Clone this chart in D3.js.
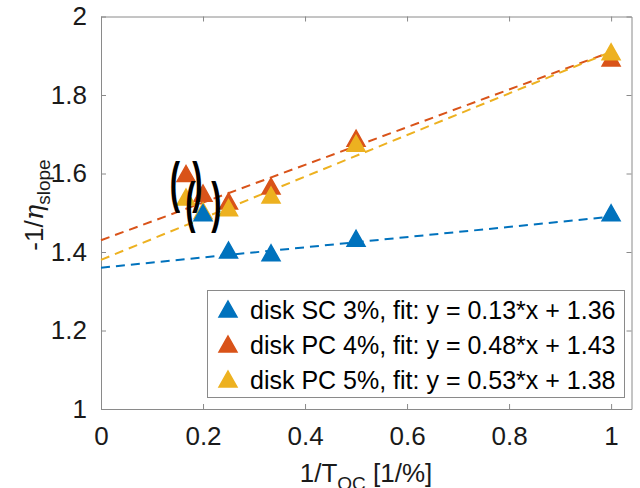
<!DOCTYPE html>
<html>
<head>
<meta charset="utf-8">
<script src="https://cdn.jsdelivr.net/npm/d3@7"></script>
<style>
  body { margin: 0; background: #fff; }
  svg { display: block; font-family: "Liberation Sans", Arial, Helvetica, sans-serif; }
</style>
</head>
<body>
<div id="chart"></div>
<script>
// 1/T_OC values (x) for each measurement
const xSC = [0.2, 0.25, 1 / 3, 0.5, 1];
const ySC = [1.50, 1.405, 1.398, 1.435, 1.50];

const xPC4 = [1 / 6, 0.2, 0.25, 1 / 3, 0.5, 1];
const yPC4 = [1.60, 1.55, 1.53, 1.568, 1.69, 1.894];

const xPC5 = [1 / 6, 0.2, 0.25, 1 / 3, 0.5, 1];
const yPC5 = [1.54, 1.505, 1.513, 1.545, 1.677, 1.91];

// linear fits  y = a*x + b
const fitSlopes = [0.13, 0.48, 0.53];
const fitOffsets = [1.36, 1.43, 1.38];

const seriesNames = [
  'disk SC 3%, fit: y = 0.13*x + 1.36',
  'disk PC 4%, fit: y = 0.48*x + 1.43',
  'disk PC 5%, fit: y = 0.53*x + 1.38'
];
const colors = ['#0072BD', '#D95319', '#EDB120'];

const xTicks = [0, 0.2, 0.4, 0.6, 0.8, 1];
const yTicks = [1, 1.2, 1.4, 1.6, 1.8, 2];

// brackets drawn around the uncertain points
const bracketChars = ['(', ')', '(', ')'];
const bracketX = [0.145, 0.189, 0.175, 0.226];
const bracketY = [1.566, 1.568, 1.517, 1.517];

const width = 640;
const height = 488;
const margin = { top: 16.5, right: 8.5, bottom: 79, left: 101 };

const svg = d3.select('#chart')
  .append('svg')
  .attr('width', width)
  .attr('height', height);

const xScale = d3.scaleLinear()
  .domain([0, 1.04])
  .range([margin.left, width - margin.right]);

const yScale = d3.scaleLinear()
  .domain([1, 2])
  .range([height - margin.bottom, margin.top]);

const axisColor = '#8a8a8a';
const tickLen = 5;

function styleAxis(g, showLabels) {
  g.select('.domain').attr('stroke', axisColor).attr('stroke-width', 1);
  g.selectAll('.tick line').attr('stroke', axisColor);
  g.selectAll('.tick text')
    .attr('fill', '#1a1a1a')
    .style('font-size', '26px')
    .style('display', showLabels ? null : 'none');
}

const fmt = d => d3.format('~g')(d);

// bottom / top
svg.append('g')
  .attr('transform', `translate(0,${yScale(1)})`)
  .call(d3.axisBottom(xScale).tickValues(xTicks).tickFormat(fmt)
    .tickSizeInner(-tickLen).tickSizeOuter(0).tickPadding(18))
  .call(g => styleAxis(g, true));

svg.append('g')
  .attr('transform', `translate(0,${yScale(2)})`)
  .call(d3.axisTop(xScale).tickValues(xTicks)
    .tickSizeInner(-tickLen).tickSizeOuter(0))
  .call(g => styleAxis(g, false));

// left / right
svg.append('g')
  .attr('transform', `translate(${xScale(0)},0)`)
  .call(d3.axisLeft(yScale).tickValues(yTicks).tickFormat(fmt)
    .tickSizeInner(-tickLen).tickSizeOuter(0).tickPadding(14))
  .call(g => styleAxis(g, true));

svg.append('g')
  .attr('transform', `translate(${xScale(1.04)},0)`)
  .call(d3.axisRight(yScale).tickValues(yTicks)
    .tickSizeInner(-tickLen).tickSizeOuter(0))
  .call(g => styleAxis(g, false));

// dashed fit lines from x = 0 to x = 1
const line = d3.line()
  .x(d => xScale(d[0]))
  .y(d => yScale(d[1]));

fitSlopes.forEach((a, i) => {
  const b = fitOffsets[i];
  svg.append('path')
    .datum([[0, b], [1, a + b]])
    .attr('d', line)
    .attr('fill', 'none')
    .attr('stroke', colors[i])
    .attr('stroke-width', 2)
    .attr('stroke-dasharray', '9,6');
});

// triangle marker centred on the data point
function triangle(w, h) {
  return `M0,${-h / 2}L${w / 2},${h / 2}L${-w / 2},${h / 2}Z`;
}

const series = [
  { xs: xSC, ys: ySC, color: colors[0] },
  { xs: xPC4, ys: yPC4, color: colors[1] },
  { xs: xPC5, ys: yPC5, color: colors[2] }
];

// draw order: PC 4%, PC 5%, then SC 3% on top
[1, 2, 0].forEach(i => {
  const s = series[i];
  svg.append('g')
    .selectAll('path')
      .data(s.xs.map((x, j) => [x, s.ys[j]]))
    .join('path')
      .attr('transform', d => `translate(${xScale(d[0])},${yScale(d[1])})`)
      .attr('d', triangle(18, 16))
      .attr('fill', s.color)
      .attr('stroke', s.color)
      .attr('stroke-width', 1.5)
      .attr('stroke-linejoin', 'miter');
});

// brackets
const bracketSize = 56;
svg.append('g')
  .selectAll('text')
    .data(bracketChars.map((c, i) => ({ c, x: bracketX[i], y: bracketY[i] })))
  .join('text')
    .attr('transform', d =>
      `translate(${xScale(d.x)},${yScale(d.y) + 0.26 * bracketSize}) scale(0.55,1)`)
    .attr('text-anchor', 'middle')
    .style('font-size', `${bracketSize}px`)
    .style('font-weight', 'bold')
    .attr('fill', '#000')
    .text(d => d.c);

// legend
const legend = svg.append('g');
legend.append('rect')
  .attr('x', 207.5)
  .attr('y', 290.5)
  .attr('width', 417)
  .attr('height', 107)
  .attr('fill', '#fff')
  .attr('stroke', axisColor)
  .attr('stroke-width', 1);

const rowY = [309, 344, 379];
seriesNames.forEach((name, i) => {
  legend.append('path')
    .attr('transform', `translate(228,${rowY[i]})`)
    .attr('d', triangle(18, 16))
    .attr('fill', colors[i])
    .attr('stroke', colors[i])
    .attr('stroke-width', 1.5);
  legend.append('text')
    .attr('x', 250)
    .attr('y', rowY[i] + 10)
    .style('font-size', '25px')
    .attr('fill', '#000')
    .text(name);
});

// axis labels
const xLabel = svg.append('text')
  .attr('x', 366)
  .attr('y', 482)
  .attr('text-anchor', 'middle')
  .style('font-size', '26px')
  .attr('fill', '#1a1a1a');
xLabel.append('tspan').text('1/T');
xLabel.append('tspan').attr('dy', 8).style('font-size', '19px').text('OC');
xLabel.append('tspan').attr('dy', -8).text(' [1/%]');

const yLabel = svg.append('text')
  .attr('transform', 'translate(43,205) rotate(-90)')
  .attr('text-anchor', 'middle')
  .style('font-size', '26px')
  .attr('fill', '#1a1a1a');
yLabel.append('tspan').text('-1/');
yLabel.append('tspan').style('font-style', 'italic').style('font-family', '"DejaVu Serif", serif').text('η');
yLabel.append('tspan').attr('dy', 7).style('font-size', '19px').text('slope');
</script>
</body>
</html>
